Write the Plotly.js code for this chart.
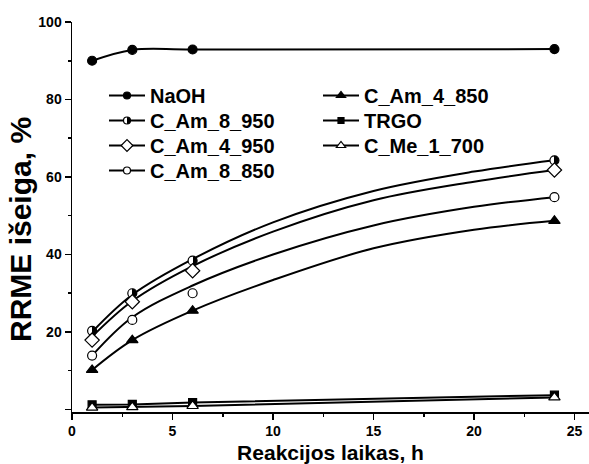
<!DOCTYPE html>
<html>
<head>
<meta charset="utf-8">
<script src="https://cdn.plot.ly/plotly-3.0.1.min.js"></script>
<style>html,body{margin:0;padding:0;background:#fff;}#chart{width:589px;height:464px;}</style>
</head>
<body>
<div id="chart"></div>
<script>
// measured points
var timeH = [1, 3, 6, 24];
var naoh = [90.0, 92.8, 92.9, 93.0];
var cAm8_950 = [20.3, 30.0, 38.4, 64.3];
var cAm4_950 = [17.9, 27.8, 35.8, 61.8];
var cAm8_850 = [13.9, 23.1, 30.0, 54.8];
var cAm4_850 = [10.2, 17.9, 25.5, 48.7];
var trgo = [1.2, 1.3, 1.8, 3.7];
var cMe1_700 = [0.5, 0.6, 0.9, 3.1];

// fitted curves
var fitX = [1, 3, 6, 10, 15, 20, 24];
var fit8_950 = [20.0, 29.6, 38.8, 48.3, 56.4, 61.4, 64.3];
var fit4_950 = [18.8, 28.0, 37.0, 45.9, 54.0, 58.8, 61.8];
var fit8_850 = [13.9, 23.8, 32.0, 40.0, 47.5, 52.3, 54.8];
var fit4_850 = [10.2, 17.9, 25.5, 33.4, 41.6, 46.4, 48.7];

var names = ['NaOH', 'C_Am_8_950', 'C_Am_4_950', 'C_Am_8_850', 'C_Am_4_850', 'TRGO', 'C_Me_1_700'];
var xTitle = 'Reakcijos laikas, h';
var yTitle = 'RRME išeiga, %';

var blk = '#000';
var lw = 2;
var symbols = ['circle', 'circle', 'diamond', 'circle', 'triangle-up', 'square', 'triangle-up'];
var fills = [blk, blk, '#fff', '#fff', blk, blk, '#fff'];
var plotSizes = [9, 9, 11, 9, 10, 8, 10];
var legSizes = [7, 7, 9, 7, 8, 6, 8];
function mk(i, size) {
  var m = {symbol: symbols[i], color: fills[i], size: size, line: {color: blk, width: 1.2}};
  if (i === 1) m.gradient = {type: 'horizontal', color: '#fff'};
  return m;
}

var traces = [];
function lineTrace(x, y, shape) {
  return {x: x, y: y, mode: 'lines', line: {color: blk, width: lw, shape: shape, smoothing: 1}, showlegend: false, hoverinfo: 'skip'};
}
traces.push(lineTrace(timeH, naoh, 'spline'));
traces.push(lineTrace(fitX, fit8_950, 'spline'));
traces.push(lineTrace(fitX, fit4_950, 'spline'));
traces.push(lineTrace(fitX, fit8_850, 'spline'));
traces.push(lineTrace(fitX, fit4_850, 'spline'));
traces.push(lineTrace(timeH, trgo, 'linear'));
traces.push(lineTrace(timeH, cMe1_700, 'linear'));

var series = [naoh, cAm8_950, cAm4_950, cAm8_850, cAm4_850, trgo, cMe1_700];
for (var i = 0; i < series.length; i++) {
  traces.push({x: timeH, y: series[i], mode: 'markers', marker: mk(i, plotSizes[i]), showlegend: false, cliponaxis: false});
}

var fontFam = 'Liberation Sans, Arial, sans-serif';
var legFont = {family: fontFam, size: 20, color: blk, weight: 'bold'};

// legend placement: one legend per entry (two columns)
var rowCenters = [95, 120, 145, 170, 95, 120, 145];
var colLeft = [104, 104, 104, 104, 318, 318, 318];
var plotL = 72, plotW = 517, plotB = 412, plotH = 390;

var layout = {
  width: 589, height: 464,
  margin: {l: 72, r: 0, t: 22, b: 52},
  paper_bgcolor: '#fff', plot_bgcolor: '#fff',
  showlegend: true,
  xaxis: {
    range: [0, 25.72], dtick: 5, tick0: 0,
    showline: true, linecolor: blk, linewidth: 1.5, mirror: false,
    showgrid: false, zeroline: false,
    ticks: 'outside', ticklen: 6, tickwidth: 1.5, tickcolor: blk,
    minor: {dtick: 2.5, ticks: 'outside', ticklen: 3, tickwidth: 1.5, tickcolor: blk, showgrid: false},
    tickfont: {family: fontFam, size: 14, color: blk, weight: 'bold'},
    title: {text: xTitle, font: {family: fontFam, size: 21, color: blk, weight: 'bold'}, standoff: 8}
  },
  yaxis: {
    range: [-0.65, 100],
    tickvals: [0, 20, 40, 60, 80, 100], ticktext: ['', '20', '40', '60', '80', '100'],
    showline: true, linecolor: blk, linewidth: 1.5,
    showgrid: false, zeroline: false,
    ticks: 'outside', ticklen: 6, tickwidth: 1.5, tickcolor: blk,
    minor: {tickvals: [10, 30, 50, 70, 90], ticks: 'outside', ticklen: 3, tickwidth: 1.5, tickcolor: blk, showgrid: false},
    tickfont: {family: fontFam, size: 14, color: blk, weight: 'bold'}
  },
  annotations: [{
    text: yTitle, xref: 'paper', yref: 'paper',
    x: (20 - plotL) / plotW, y: (plotB - 230) / plotH,
    xanchor: 'center', yanchor: 'middle', textangle: -90, showarrow: false,
    font: {family: fontFam, size: 30, color: blk, weight: 'bold'}
  }]
};

for (var k = 0; k < names.length; k++) {
  var lid = k === 0 ? 'legend' : 'legend' + (k + 1);
  layout[lid] = {
    x: (colLeft[k] - plotL) / plotW,
    y: (plotB - (rowCenters[k] - 19)) / plotH,
    xanchor: 'left', yanchor: 'top',
    bgcolor: 'rgba(0,0,0,0)', borderwidth: 0,
    font: legFont, itemwidth: 36
  };
  traces.push({x: [null], y: [null], name: names[k], mode: 'lines+markers',
    line: {color: blk, width: lw}, marker: mk(k, legSizes[k]), legend: lid});
}

Plotly.newPlot('chart', traces, layout, {displayModeBar: false, staticPlot: true}).then(function () {
  // make the gradient marker a crisp half-filled circle
  var grads = document.querySelectorAll('#chart linearGradient');
  grads.forEach(function (g) {
    g.setAttribute('x1', '0'); g.setAttribute('x2', '1');
    g.setAttribute('y1', '0'); g.setAttribute('y2', '0');
    while (g.firstChild) g.removeChild(g.firstChild);
    [[0, '#fff'], [0.5, '#fff'], [0.5, '#000'], [1, '#000']].forEach(function (s) {
      var st = document.createElementNS('http://www.w3.org/2000/svg', 'stop');
      st.setAttribute('offset', s[0]);
      st.setAttribute('stop-color', s[1]);
      g.appendChild(st);
    });
  });
});
</script>
</body>
</html>
